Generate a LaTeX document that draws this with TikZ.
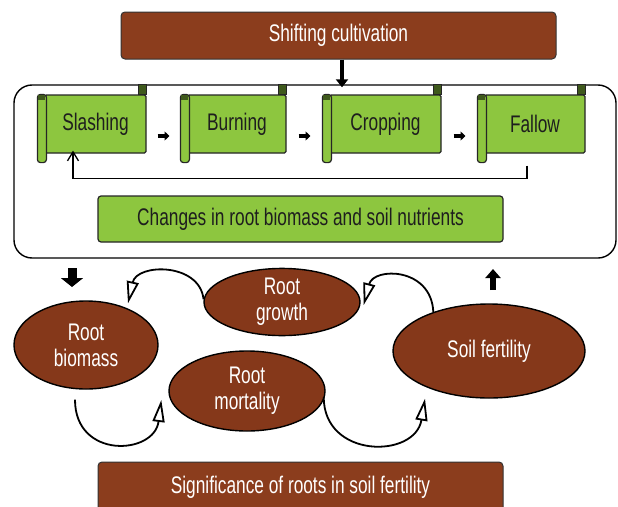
\documentclass[tikz,border=0pt]{standalone}
\usepackage{fontspec}
\setmainfont{Liberation Sans}[FakeStretch=0.72]
\usetikzlibrary{arrows.meta,shapes.geometric,calc}
\definecolor{brn}{RGB}{139,61,29}
\definecolor{brnE}{RGB}{133,56,26}
\definecolor{grn}{RGB}{141,198,63}
\definecolor{txt}{RGB}{30,30,30}
\begin{document}
\begin{tikzpicture}[x=1pt,y=-1pt,
  lbl/.style={font=\fontsize{24}{26}\selectfont, align=center},
  brownbox/.style={lbl, draw=black!80, line width=1pt, fill=brn, text=white, rounded corners=4pt, inner sep=0pt},
  greenbox/.style={lbl, draw=black!85, line width=1.2pt, fill=grn, text=txt, rounded corners=3pt, inner sep=0pt},
  scrollmain/.style={greenbox, rounded corners=1.5pt, minimum height=58pt},
  rollbar/.style={draw=black!85, line width=1.2pt, fill=grn, rounded corners=3pt},
  curl/.style={draw=black!85, line width=0.8pt, fill=black!55!grn},
  container/.style={draw=black, line width=1.4pt, rounded corners=18pt, minimum width=602pt, minimum height=173pt, inner sep=0pt},
  oval/.style={lbl, ellipse, draw=black, line width=1.4pt, fill=brnE, text=white, inner sep=0pt},
  smallblk/.style={line width=4pt, -{Triangle[length=5pt,width=9pt]}},
  topblk/.style={line width=4pt, -{Triangle[length=8pt,width=12pt]}},
  downblk/.style={line width=9pt, -{Triangle[length=9pt,width=22pt]}},
  upblk/.style={line width=6pt, -{Triangle[length=9pt,width=15pt]}},
  fb/.style={line width=1.3pt, -{Straight Barb[length=9pt,width=11pt]}},
  loop/.style={line width=1.8pt, -{Triangle[open,length=22pt,width=12pt,fill=white]}}
]
\fill[white] (0,0) rectangle (618,506);
\useasboundingbox (0,0) rectangle (618,506);

\node[brownbox, minimum width=435pt, minimum height=47pt] (shift) at (338.5,35.5) {Shifting cultivation};
\node[container] (cont) at (315,171.5) {};

\foreach \n/\a/\b/\t in {slash/45/146/Slashing, burn/188/286/Burning, crop/330/441/Cropping, fallow/485/585/Fallow}{
  \node[scrollmain, minimum width={(\b-\a)*1pt}] (\n) at ({(\a+\b)/2},124) {\t};
  \draw[rollbar] ([xshift=-7pt]\n.north west) rectangle ([xshift=2pt,yshift=-9pt]\n.south west);
  \fill[black!55!grn] ([xshift=-6pt,yshift=-1pt]\n.north west) rectangle ([xshift=1pt,yshift=-6pt]\n.north west);
  \draw[curl] ([xshift=-8pt]\n.north east) rectangle ([yshift=10pt]\n.north east);
}

\draw[topblk] ([xshift=3.5pt]shift.south) -- ([xshift=3.5pt,yshift=-3pt]shift.south |- cont.north);

\draw[smallblk] ($(slash.east)!0.5!([xshift=-7pt]burn.west)+(-6,12)$) -- ++(12,0);
\draw[smallblk] ($(burn.east)!0.5!([xshift=-7pt]crop.west)+(-6,12)$) -- ++(12,0);
\draw[smallblk] ($(crop.east)!0.5!([xshift=-7pt]fallow.west)+(-6,12)$) -- ++(12,0);

\draw[fb] ([xshift=-8pt,yshift=-12pt]fallow.south) |- ([xshift=-22.5pt,yshift=-25pt]slash.south) -- ([xshift=-22.5pt,yshift=3pt]slash.south);

\node[greenbox, minimum width=405pt, minimum height=46pt] (chg) at (300.5,219) {Changes in root biomass and soil nutrients};

\node[oval, minimum width=144pt, minimum height=88pt] (rb) at (86,345) {Root\\biomass};
\node[oval, minimum width=156pt, minimum height=60pt] (rg) at (282,302) {Root\\growth};
\node[oval, minimum width=156pt, minimum height=80pt] (rm) at (247,391) {Root\\mortality};
\node[oval, minimum width=192pt, minimum height=94pt] (sf) at (489,351) {Soil fertility};

\node[brownbox, minimum width=405pt, minimum height=50pt] (sig) at (300.5,487) {Significance of roots in soil fertility};

\coordinate (dnA) at (72,268);
\coordinate (dnB) at (72,287);
\coordinate (upA) at (493,290);
\coordinate (upB) at (493,269);
\draw[downblk] (dnA) -- (dnB);
\draw[upblk] (upA) -- (upB);

\draw[loop] (rg.178) .. controls +(-4,-37) and +(9,-40) .. ([xshift=42pt,yshift=-3pt]rb.north);
\draw[loop] (sf.145) .. controls +(-2,-45) and +(10,-38) .. ([xshift=3pt,yshift=-3pt]rg.east);
\draw[loop] ([xshift=-11pt,yshift=-10pt]rb.south) .. controls +(0,60) and +(-7,55) .. ([xshift=-7pt,yshift=-9pt]rm.west);
\draw[loop] ([xshift=-2pt,yshift=-6pt]rm.east) .. controls +(0,62) and +(-10,60) .. ([xshift=-64pt]sf.south);
\end{tikzpicture}
\end{document}
